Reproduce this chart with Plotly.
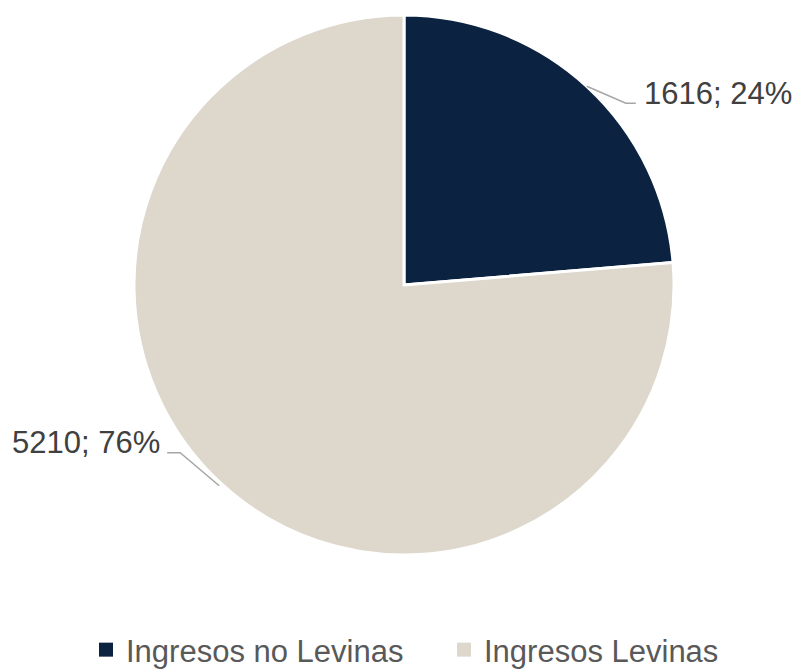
import math
import plotly.graph_objects as go

categories = ["Ingresos no Levinas", "Ingresos Levinas"]
values = [1616, 5210]
colors = ["#0B2340", "#DDD7CC"]

W, H = 797, 671
ML, MR, MT, MB = 134, 123, 15, 116
pw, ph = W - ML - MR, H - MT - MB
R = min(pw, ph) / 2
cx, cy = ML + pw / 2, MT + ph / 2

fig = go.Figure(go.Pie(
    labels=categories, values=values, sort=False, direction="clockwise", rotation=0,
    marker=dict(colors=colors, line=dict(color="white", width=3)),
    textinfo="none", hoverinfo="label+value+percent", showlegend=False,
))
# legend entries with larger square symbols, one legend box per entry
legend_ids = ["legend", "legend2"]
for name, col, lid in zip(categories, colors, legend_ids):
    fig.add_trace(go.Scatter(x=[None], y=[None], mode="markers", name=name,
                             marker=dict(symbol="square", size=14, color=col),
                             hoverinfo="skip", showlegend=True, legend=lid))

def to_paper(x, y):
    return (x - ML) / pw, (H - MB - y) / ph

total = sum(values)
start = 0.0
shapes, annotations = [], []
for v in values:
    frac = v / total
    mid = (start + frac / 2) * 2 * math.pi
    start += frac
    sx, sy = math.sin(mid), -math.cos(mid)
    p0 = (cx + R * sx, cy + R * sy)
    right = sx >= 0
    if right:
        p1 = (p0[0] + 39, p0[1] + 17)
        p2 = (p1[0] + 10, p1[1])
    else:
        p0 = (p0[0] - 2, p0[1] + 2)
        p1 = (p0[0] - 39, p0[1] - 33)
        p2 = (p1[0] - 13, p1[1])
    pts = [to_paper(*p) for p in (p0, p1, p2)]
    path = "M {} {} L {} {} L {} {}".format(pts[0][0], pts[0][1], pts[1][0], pts[1][1], pts[2][0], pts[2][1])
    shapes.append(dict(type="path", xref="paper", yref="paper", path=path,
                       line=dict(color="#A6A6A6", width=1.5)))
    lx, ly = to_paper(p2[0] + (6 if right else -5), p2[1] - 10)
    annotations.append(dict(
        x=lx, y=ly, xref="paper", yref="paper", showarrow=False,
        xanchor="left" if right else "right", yanchor="middle",
        text="{}; {:.0f}%".format(v, frac * 100),
        font=dict(family="Liberation Sans, Arial, sans-serif", size=31, color="#404040"),
    ))

legend_style = dict(orientation="h", y=(H - MB - 650) / ph, xanchor="left", yanchor="middle",
                    font=dict(family="Liberation Sans, Arial, sans-serif", size=31, color="#595959"),
                    itemwidth=30, bgcolor="rgba(0,0,0,0)")

fig.update_layout(
    width=W, height=H, margin=dict(l=ML, r=MR, t=MT, b=MB, autoexpand=False),
    paper_bgcolor="white", plot_bgcolor="white",
    xaxis=dict(visible=False), yaxis=dict(visible=False),
    shapes=shapes, annotations=annotations,
    legend=dict(x=(86 - ML) / pw, **legend_style),
    legend2=dict(x=(444 - ML) / pw, **legend_style),
)

fig.write_html("out.html", config={"displayModeBar": False},
               post_script="document.body.style.margin='0';document.body.style.overflow='hidden';")
